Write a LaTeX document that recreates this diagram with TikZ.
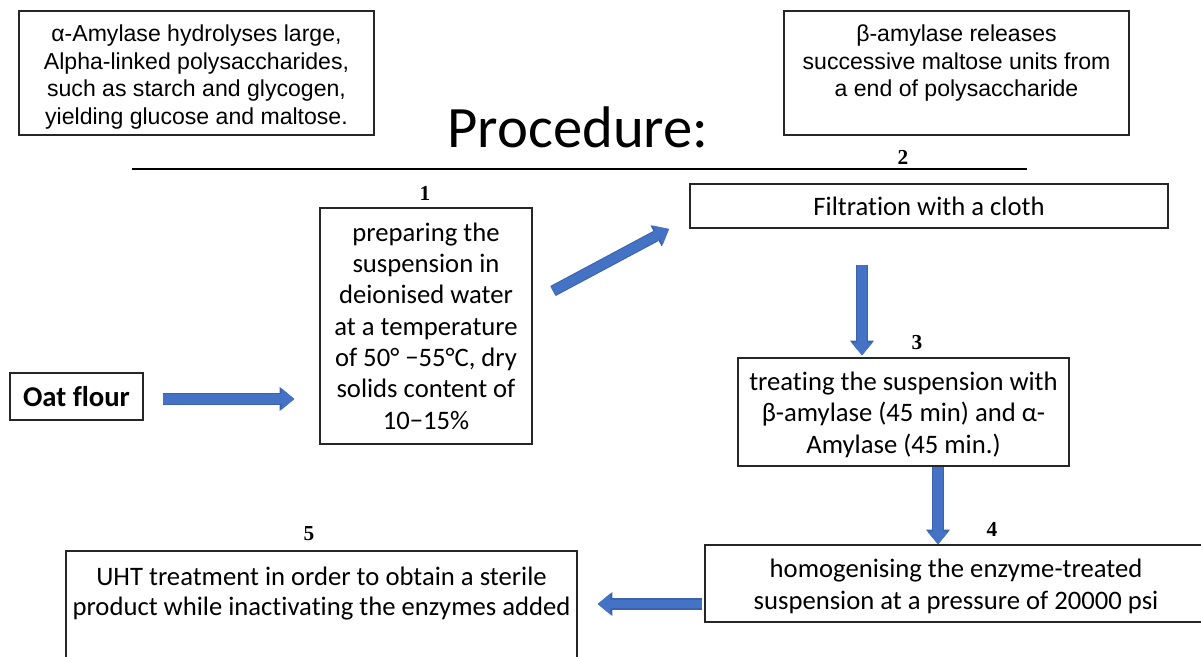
\documentclass[tikz,border=0pt]{standalone}
\usepackage{fontspec}
\setmainfont{Carlito}[Ligatures=NoCommon]
\newfontfamily\arialf{Liberation Sans}
\newfontfamily\tnrf{Liberation Serif}
\usetikzlibrary{arrows.meta}
\definecolor{arrowblue}{HTML}{4472C4}
\definecolor{arrowdark}{HTML}{3A62AD}
\definecolor{boxline}{HTML}{262626}
\newcommand{\mybox}[4]{\begin{minipage}[c][#2][#3]{#1}\centering #4\end{minipage}}
\begin{document}
\begin{tikzpicture}[x=0.75pt,y=-0.75pt,
  box/.style={draw=boxline,line width=1.1pt,inner sep=0pt},
  flow/.style={draw=arrowblue,line width=7pt,-{Triangle[length=9.5pt,width=16pt,line width=0pt]},
    preaction={draw=arrowdark,line width=8.5pt,-{Triangle[length=11pt,width=18pt,line width=0pt]}}},
  num/.style={font=\tnrf\bfseries\fontsize{16}{18}\selectfont,anchor=base},
  calib/.style={font=\fontsize{20}{23.5}\selectfont},
  sans/.style={font=\arialf\fontsize{17.3}{20.6}\selectfont}]
\useasboundingbox (0,0) rectangle (1201,656);
\fill[white] (0,0) rectangle (1201,656);
\clip (0,0) rectangle (1201,656);

% note boxes
\node[box,sans] (alpha) at (196.5,73) {\mybox{266.25pt}{93pt}{c}{\vspace*{6pt}α-Amylase hydrolyses large,\\ Alpha-linked polysaccharides,\\ such as starch and glycogen,\\ yielding glucose and maltose.}};
\node[box,sans] (beta) at (956.5,73) {\mybox{258.75pt}{93pt}{t}{\vspace*{10.5pt}β-amylase releases\\ successive maltose units from\\ a end of polysaccharide}};

% title and rule
\node[font=\fontsize{44}{50}\selectfont,anchor=base] (title) at (578,147) {Procedure:};
\draw[line width=2pt] (132,169) -- (1027,169);

% process boxes
\node[box,font=\bfseries\fontsize{21.5}{25}\selectfont] (oat) at (76.5,396.5) {\mybox{99.75pt}{35.25pt}{c}{Oat flour}};
\node[box,calib] (b1) at (426,326) {\mybox{159pt}{177pt}{c}{preparing the\\ suspension in\\ deionised water\\ at a temperature\\ of 50° −55°C, dry\\ solids content of\\ 10−15\%}};
\node[box,calib] (filt) at (929,206) {\mybox{358.5pt}{33pt}{c}{Filtration with a cloth}};
\node[box,calib] (b3) at (903.5,412) {\mybox{248.25pt}{81pt}{c}{\vspace*{4pt}treating the suspension with\\ β-amylase (45 min) and α-\\ Amylase (45 min.)}};
\node[box,calib] (b4) at (956,583.5) {\mybox{376.5pt}{57.75pt}{c}{\vspace*{4.5pt}homogenising the enzyme-treated\\ suspension at a pressure of 20000 psi}};
\node[box,font=\fontsize{20}{22.5}\selectfont] (b5) at (321.5,615.5) {\mybox{383.25pt}{96.75pt}{t}{\vspace*{12pt}UHT treatment in order to obtain a sterile\\ product while inactivating the enzymes added}};

% step numbers
\node[num] (n1) at (425,200) {1};
\node[num] (n2) at (903,165) {2};
\node[num] (n3) at (917,349) {3};
\node[num] (n4) at (992,536) {4};
\node[num] (n5) at (309,540) {5};

% connectors
\coordinate (yoat) at (0,399);
\coordinate (dA) at (553,291);
\coordinate (dB) at (669,229);
\coordinate (xA) at (862,0);
\coordinate (xB) at (938,0);
\coordinate (yL) at (0,604);
\draw[flow,shorten <=14.25pt,shorten >=18.75pt] (oat.east |- yoat) -- (b1.west |- yoat);
\draw[flow] (dA) -- (dB);
\draw[flow,shorten <=27pt,shorten >=1.5pt] (filt.south -| xA) -- (b3.north -| xA);
\draw[flow] (b3.south -| xB) -- (b4.north -| xB);
\draw[flow,line width=6pt,preaction={line width=7.5pt},shorten <=1.5pt,shorten >=15pt] (b4.west |- yL) -- (b5.east |- yL);
\end{tikzpicture}
\end{document}
